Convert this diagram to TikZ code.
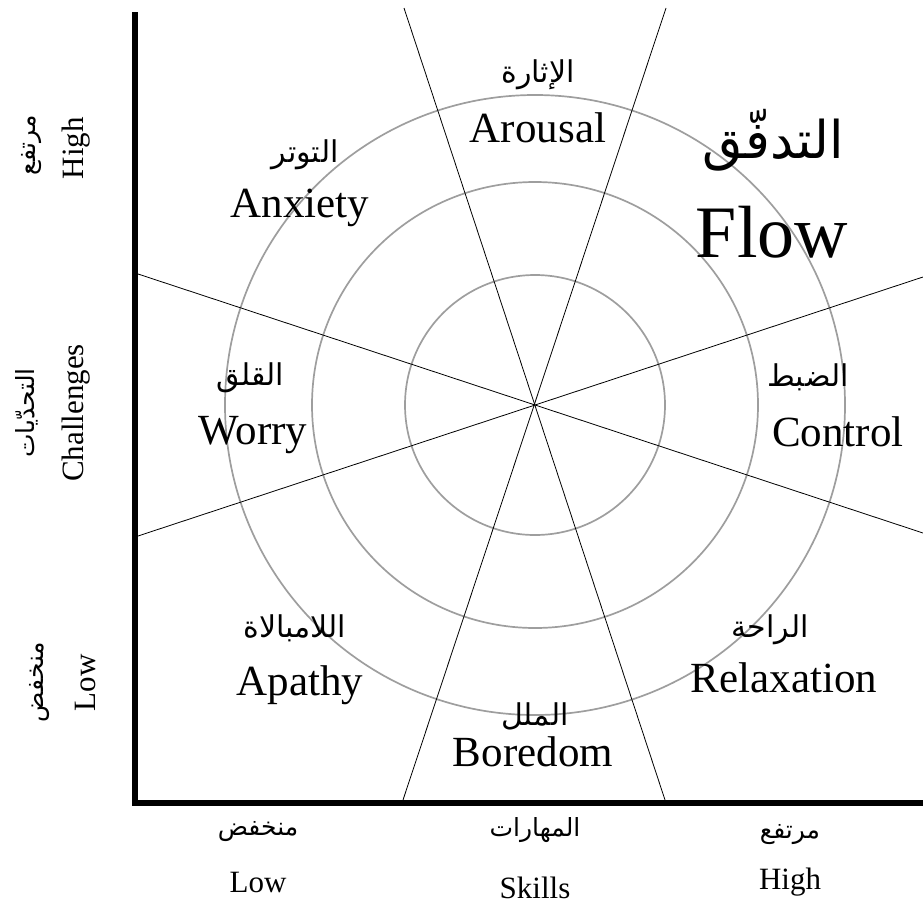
\documentclass[tikz,border=0pt]{standalone}
\usepackage{fontspec}
\setmainfont{Liberation Serif}
\newfontfamily\arabicfont[Script=Arabic]{DejaVu Sans}
\TeXXeTstate=1
\newcommand{\artxt}[1]{{\arabicfont\beginR #1\endR}}
\begin{document}
\begin{tikzpicture}[x=1pt,y=-1pt,
  ring/.style={draw=black!38, line width=1.7pt},
  ray/.style={draw=black, line width=0.8pt},
  axisline/.style={draw=black, line width=6pt},
  en/.style={font=\fontsize{43}{43}\selectfont, inner sep=0pt},
  ar/.style={font=\arabicfont\fontsize{30}{30}\selectfont, inner sep=0pt},
  axen/.style={font=\fontsize{31}{31}\selectfont, inner sep=0pt},
  axar/.style={font=\arabicfont\fontsize{25}{25}\selectfont, inner sep=0pt},
  flowen/.style={font=\fontsize{74}{74}\selectfont, inner sep=0pt},
  flowar/.style={font=\arabicfont\fontsize{52}{52}\selectfont, inner sep=0pt}]
\useasboundingbox (0,0) rectangle (923,921);
\coordinate (c) at (535,405);
% rings
\draw[ring] (c) circle[radius=130pt];
\draw[ring] (c) circle[radius=223pt];
\draw[ring] (c) circle[radius=310pt];
% rays
\coordinate (a1) at (404,8);   \coordinate (a2) at (666,803);
\coordinate (b1) at (666,8);   \coordinate (b2) at (402,803);
\coordinate (c1) at (138,274); \coordinate (c2) at (923,533);
\coordinate (d1) at (138,536); \coordinate (d2) at (923,277);
\draw[ray] (a1) -- (a2);
\draw[ray] (b1) -- (b2);
\draw[ray] (c1) -- (c2);
\draw[ray] (d1) -- (d2);
% axes
\coordinate (ytop) at (135,15);
\coordinate (corner) at (135,803);
\coordinate (xend) at (923,803);
\draw[axisline, line cap=rect] (ytop) -- (corner) -- (xend);
% region labels
\node[ar] (arouA) at (538,75) {\artxt{الإثارة}};
\node[en] (arouE) at (538,128) {Arousal};
\node[flowar] (flowA) at (773,140) {\artxt{التدفّق}};
\node[flowen] (flowE) at (772,232) {Flow};
\node[ar] (anxA) at (305,155) {\artxt{التوتر}};
\node[en] (anxE) at (300,208) {Anxiety};
\node[ar] (worA) at (250,378) {\artxt{القلق}};
\node[en] (worE) at (253,435) {Worry};
\node[ar] (conA) at (808,377) {\artxt{الضبط}};
\node[en] (conE) at (838,432) {Control};
\node[ar] (apaA) at (295,628) {\artxt{اللامبالاة}};
\node[en] (apaE) at (300,685) {Apathy};
\node[ar] (relA) at (770,630) {\artxt{الراحة}};
\node[en] (relE) at (784,678) {Relaxation};
\node[ar] (borA) at (535,716) {\artxt{الملل}};
\node[en] (borE) at (533,752) {Boredom};
% x axis labels
\node[axar] (xlowA) at (258,832) {\artxt{منخفض}};
\node[axen] (xlowE) at (258,882) {Low};
\node[axar] (skA) at (535,830) {\artxt{المهارات}};
\node[axen] (skE) at (535,888) {Skills};
\node[axar] (xhighA) at (790,835) {\artxt{مرتفع}};
\node[axen] (xhighE) at (790,882) {High};
% y axis labels
\node[axar, rotate=90] (yhighA) at (32,145) {\artxt{مرتفع}};
\node[axen, rotate=90] (yhighE) at (76,148) {High};
\node[axar, rotate=90] (chA) at (27,413) {\artxt{التحدّيات}};
\node[axen, rotate=90] (chE) at (76,413) {Challenges};
\node[axar, rotate=90] (ylowA) at (40,682) {\artxt{منخفض}};
\node[axen, rotate=90] (ylowE) at (86,683) {Low};
\end{tikzpicture}
\end{document}
